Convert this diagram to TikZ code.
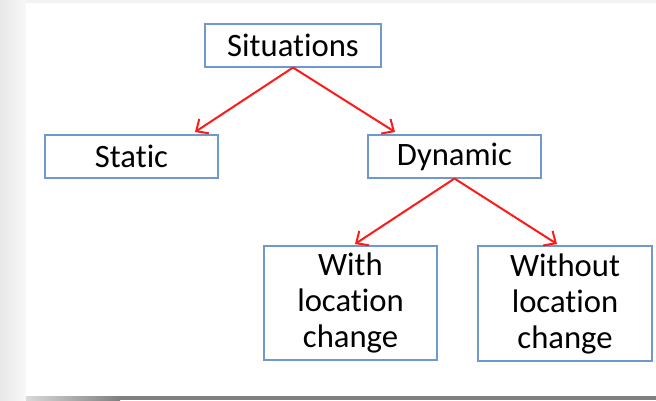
\documentclass[tikz,border=0pt]{standalone}
\usepackage{fontspec}
\setmainfont{Carlito}[Ligatures={NoCommon}]
\usetikzlibrary{arrows.meta}
\definecolor{boxblue}{HTML}{6F98CF}
\definecolor{arrred}{HTML}{FF1A1A}
\tikzset{
  box/.style={draw=boxblue, line width=0.8pt, fill=white, inner sep=0pt, align=center,
    font=\fontsize{24.5}{27}\selectfont},
  arr/.style={draw=arrred, line width=1.5pt, -{Straight Barb[length=7pt,width=13pt,line width=1.5pt]}}
}
\begin{document}
\begin{tikzpicture}[x=0.75pt,y=-0.75pt]
\useasboundingbox (0,0) rectangle (656,400);
% background and shadow
\fill[black!5] (0,0) rectangle (656,400);
\shade[left color=black!9, right color=black!3] (0,0) rectangle (26,400);
\fill[white] (26,3) rectangle (656,396);
\shade[left color=black!15, right color=black!50] (26,396) rectangle (120,400);
\fill[black!50] (120,396) rectangle (656,400);
% nodes
\node[box, minimum width=176*0.75pt, minimum height=43*0.75pt] (sit) at (293,45.5) {Situations};
\node[box, minimum width=173*0.75pt, minimum height=43*0.75pt] (sta) at (131.5,156.5) {Static};
\node[box, minimum width=173*0.75pt, minimum height=43*0.75pt] (dyn) at (454.5,156.5) {Dynamic};
\node[box, minimum width=173*0.75pt, minimum height=114*0.75pt] (with) at (350.5,303) {With\\location\\change};
\node[box, minimum width=174*0.75pt, minimum height=115*0.75pt] (without) at (565,303.5) {Without\\location\\change};
% arrow ends
\coordinate (e1) at (195,132);
\coordinate (e2) at (395,132);
\coordinate (e3) at (355,244);
\coordinate (e4) at (557,244);
\draw[arr] (sit.south) -- (e1);
\draw[arr] (sit.south) -- (e2);
\draw[arr] (dyn.south) -- (e3);
\draw[arr] (dyn.south) -- (e4);
\end{tikzpicture}
\end{document}
